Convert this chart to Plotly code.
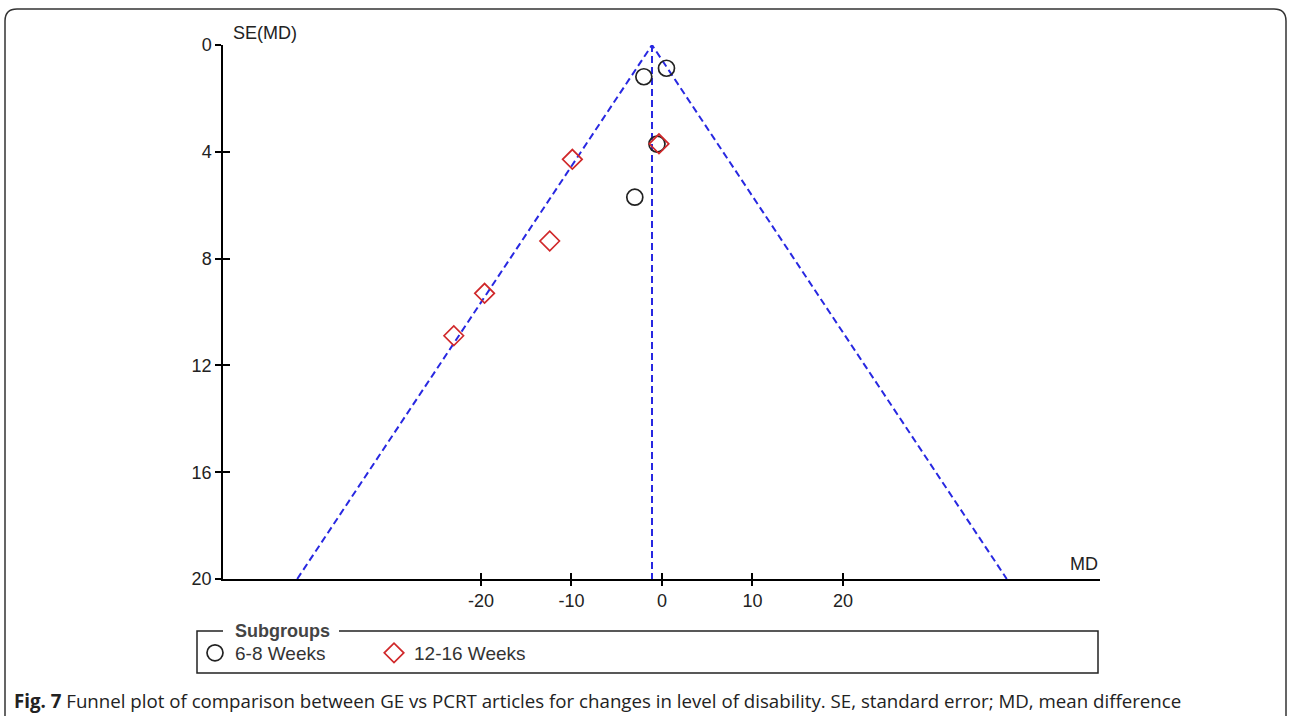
import plotly.graph_objects as go

# ---------------- data ----------------
wk6_md = [-2.0, 0.5, -0.55, -3.0]
wk6_se = [1.19, 0.87, 3.71, 5.70]
wk12_md = [-0.33, -9.9, -12.4, -19.6, -23.0]
wk12_se = [3.70, 4.28, 7.34, 9.30, 10.89]
pooled_md = -1.1
se_max = 20
x_ticks = [-20, -10, 0, 10, 20]
x_tick_labels = ["-20", "-10", "0", "10", "20"]
y_ticks = [0, 4, 8, 12, 16, 20]
series_names = ["6-8 Weeks", "12-16 Weeks"]

# ---------------- layout helpers ----------------
W, H = 1290, 716
L, R, T, B = 223, 190, 45, 137
PW, PH = W - L - R, H - T - B


def px(x):
    return (x - L) / PW


def py(y):
    return (H - B - y) / PH


BLUE = "rgb(40,40,225)"
RED = "#d0282a"
INK = "#222222"
SANS = "Liberation Sans, Arial, sans-serif"

fig = go.Figure()

# funnel lines
fig.add_trace(go.Scatter(
    x=[pooled_md - 1.96 * se_max, pooled_md, pooled_md + 1.96 * se_max],
    y=[se_max, 0, se_max], mode="lines",
    line=dict(color=BLUE, width=2, dash="7px,4px"),
    showlegend=False, hoverinfo="skip"))
fig.add_trace(go.Scatter(
    x=[pooled_md, pooled_md], y=[0, se_max], mode="lines",
    line=dict(color=BLUE, width=2, dash="7px,4px"),
    showlegend=False, hoverinfo="skip"))

# study points
fig.add_trace(go.Scatter(
    x=wk6_md, y=wk6_se, mode="markers", name=series_names[0],
    marker=dict(symbol="circle-open", size=16, color=INK, line=dict(width=1.7))))
fig.add_trace(go.Scatter(
    x=wk12_md, y=wk12_se, mode="markers", name=series_names[1],
    marker=dict(symbol="diamond-open", size=15, color=RED, line=dict(width=1.7))))

# dummy trace on overlay axes for inner tick marks
fig.add_trace(go.Scatter(x=[None], y=[None], xaxis="x2", yaxis="y2", showlegend=False))

axis_font = dict(family=SANS, size=18, color=INK)

fig.update_layout(
    width=W, height=H,
    margin=dict(l=L, r=R, t=T, b=B, pad=0),
    paper_bgcolor="white", plot_bgcolor="white",
    xaxis=dict(range=[-48.5, 48.4], tickvals=x_ticks, ticktext=x_tick_labels,
               ticks="outside", ticklen=5, tickwidth=1.5, tickcolor="black",
               showline=True, linecolor="black", linewidth=1.5,
               showgrid=False, zeroline=False, tickfont=axis_font,
               fixedrange=True),
    xaxis2=dict(range=[-48.5, 48.4], tickvals=x_ticks, overlaying="x", anchor="y",
                side="bottom", ticks="inside", ticklen=6, tickwidth=1.5,
                tickcolor="black", showticklabels=False, showline=False,
                showgrid=False, zeroline=False, fixedrange=True),
    yaxis=dict(range=[20, 0], tickvals=y_ticks,
               ticks="outside", ticklen=6, tickwidth=1.5, tickcolor="black",
               showline=True, linecolor="black", linewidth=1.5,
               showgrid=False, zeroline=False, tickfont=axis_font,
               fixedrange=True),
    yaxis2=dict(range=[20, 0], tickvals=y_ticks[:-1], overlaying="y", anchor="x",
                side="left", ticks="inside", ticklen=7, tickwidth=1.5,
                tickcolor="black", showticklabels=False, showline=False,
                showgrid=False, zeroline=False, fixedrange=True),
    legend=dict(orientation="h", x=px(195), y=py(653), xanchor="left", yanchor="middle",
                entrywidth=134, entrywidthmode="pixels",
                font=dict(family=SANS, size=19, color="#333"),
                bgcolor="rgba(0,0,0,0)", borderwidth=0, itemsizing="trace"),
    showlegend=True,
)

# axis titles
fig.add_annotation(text="SE(MD)", x=px(231), y=py(33), xref="paper", yref="paper",
                   xanchor="left", yanchor="middle", showarrow=False,
                   font=dict(family=SANS, size=18, color=INK))
fig.add_annotation(text="MD", x=px(1100), y=py(564), xref="paper", yref="paper",
                   xanchor="right", yanchor="middle", showarrow=False,
                   font=dict(family=SANS, size=18, color=INK))

# legend box with gap for title
lx0, lx1, ly0, ly1 = 197, 1098, 631, 673
g0, g1 = 223, 339
legend_path = (f"M {px(g0)},{py(ly0)} L {px(lx0)},{py(ly0)} L {px(lx0)},{py(ly1)} "
               f"L {px(lx1)},{py(ly1)} L {px(lx1)},{py(ly0)} L {px(g1)},{py(ly0)}")
fig.add_shape(type="path", path=legend_path, xref="paper", yref="paper",
              line=dict(color="#222", width=1.5))
fig.add_annotation(text="<b>Subgroups</b>", x=px(282), y=py(631), xref="paper", yref="paper",
                   xanchor="center", yanchor="middle", showarrow=False,
                   font=dict(family=SANS, size=18, color="#444"))

# outer rounded frame
fx0, fy0, fx1, fy1, r = 5, 9, 1286, 760, 12
frame = (f"M {px(fx0)},{py(fy1)} L {px(fx0)},{py(fy0 + r)} "
         f"Q {px(fx0)},{py(fy0)} {px(fx0 + r)},{py(fy0)} "
         f"L {px(fx1 - r)},{py(fy0)} Q {px(fx1)},{py(fy0)} {px(fx1)},{py(fy0 + r)} "
         f"L {px(fx1)},{py(fy1)}")
fig.add_shape(type="path", path=frame, xref="paper", yref="paper",
              line=dict(color="#333", width=1.5))

# caption
fig.add_annotation(
    text="<b>Fig. 7</b> Funnel plot of comparison between GE vs PCRT articles for changes in level of disability. SE, standard error; MD, mean difference",
    x=px(12), y=py(700), xref="paper", yref="paper", xanchor="left", yanchor="middle",
    showarrow=False, font=dict(family="Open Sans, sans-serif", size=18.7, color="#222"))

fig.write_html("out.html")
